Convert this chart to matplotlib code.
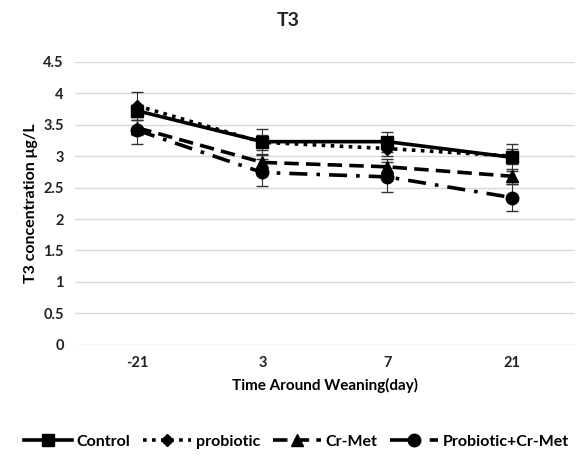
import matplotlib.pyplot as plt
from matplotlib.lines import Line2D
import numpy as np

# データ
days = ['-21', '3', '7', '21']
control = [3.72, 3.23, 3.23, 2.98]
probiotic = [3.80, 3.22, 3.12, 3.00]
cr_met = [3.45, 2.90, 2.83, 2.68]
pro_cr_met = [3.41, 2.74, 2.67, 2.34]
control_err = [0.10, 0.20, 0.16, 0.22]
probiotic_err = [0.22, 0.12, 0.12, 0.12]
cr_met_err = [0.12, 0.12, 0.12, 0.12]
pro_cr_met_err = [0.22, 0.22, 0.24, 0.21]

plt.rcParams['font.family'] = ['Lato', 'DejaVu Sans']

def main():
    fig = plt.figure(figsize=(5.76, 4.61), dpi=100)
    ax = fig.add_axes([0.13, 0.252, 0.868, 0.614])
    x = np.arange(len(days))
    series = [
        (control, control_err, 'Control', '-', 's'),
        (probiotic, probiotic_err, 'probiotic', (0, (1, 1.5)), 'D'),
        (cr_met, cr_met_err, 'Cr-Met', (0, (4, 2)), '^'),
        (pro_cr_met, pro_cr_met_err, 'Probiotic+Cr-Met', (0, (5, 2.5, 1, 2.5)), 'o'),
    ]
    handles = []
    for y, e, lab, ls, mk in series:
        ms = 9 if mk != 'D' else 6
        ax.errorbar(x, y, yerr=e, color='black', ls=ls, lw=2.6, marker=mk,
                    ms=ms, capsize=4, elinewidth=0.8, ecolor='#333333')
        # 凡例用（誤差棒なし）
        handles.append(Line2D([], [], color='black', ls=ls, lw=2.6, marker=mk,
                              ms=ms, label=lab))
    ax.set_xlim(-0.5, 3.5)
    ax.set_ylim(0, 4.5)
    ax.set_yticks(np.arange(0, 4.51, 0.5))
    ax.set_yticklabels(['0', '0.5', '1', '1.5', '2', '2.5', '3', '3.5', '4', '4.5'])
    ax.set_xticks(x)
    ax.set_xticklabels(days)
    ax.tick_params(length=0, labelsize=10.5, pad=8)
    for t in ax.get_xticklabels() + ax.get_yticklabels():
        t.set_fontweight('bold')
        t.set_color('#222222')
    ax.grid(axis='y', color='#d9d9d9', lw=1)
    ax.set_axisbelow(True)
    for s in ax.spines.values():
        s.set_visible(False)
    ax.set_xlabel('Time Around Weaning(day)', fontsize=11, fontweight='bold', labelpad=6)
    ax.set_ylabel('T3 concentration μg/L', fontsize=11.5, fontweight='bold', labelpad=4)
    fig.suptitle('T3', x=0.5, y=0.975, fontsize=14, fontweight='bold', color='#222222')
    fig.legend(handles=handles, loc='lower center', bbox_to_anchor=(0.515, -0.005), ncol=4,
               frameon=False, handlelength=3.0, handletextpad=0.3, columnspacing=0.8,
               prop={'weight': 'bold', 'size': 11.5})
    plt.savefig('out.png')

if __name__ == '__main__':
    main()
